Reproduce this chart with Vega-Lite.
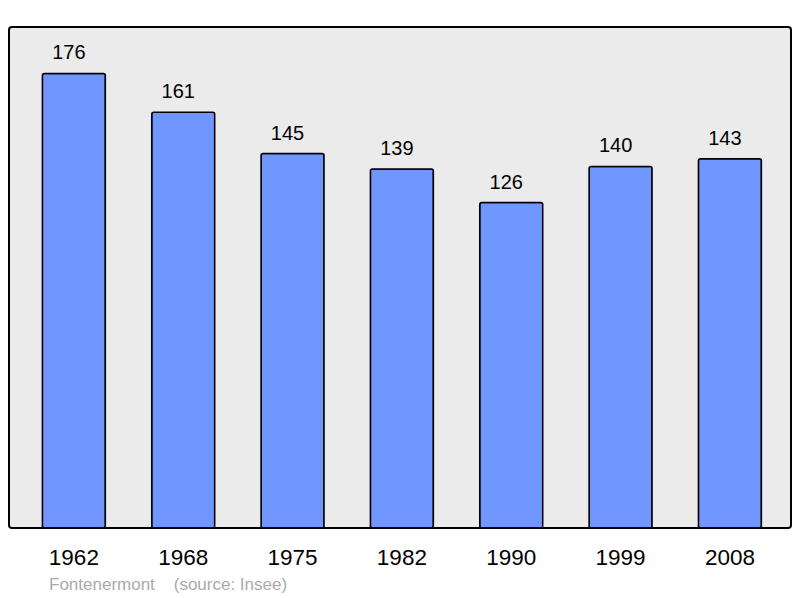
{
  "$schema": "https://vega.github.io/schema/vega-lite/v6.json",
  "width": 782,
  "height": 501,
  "autosize": "none",
  "padding": {"left": 9, "top": 27, "right": 9, "bottom": 70},
  "background": "white",
  "config": {
    "font": "Liberation Sans",
    "view": {"fill": "#ebebeb", "stroke": "black", "strokeWidth": 2, "cornerRadius": 3}
  },
  "title": {
    "text": "Fontenermont\u00a0\u00a0\u00a0\u00a0(source: Insee)",
    "orient": "bottom",
    "anchor": "start",
    "fontSize": 17,
    "fontWeight": "normal",
    "color": "#aaaaaa",
    "font": "Liberation Sans",
    "dx": 40,
    "offset": 8
  },
  "data": {
    "values": [
      {"year": "1962", "pop": 176},
      {"year": "1968", "pop": 161},
      {"year": "1975", "pop": 145},
      {"year": "1982", "pop": 139},
      {"year": "1990", "pop": 126},
      {"year": "1999", "pop": 140},
      {"year": "2008", "pop": 143}
    ]
  },
  "encoding": {
    "x": {
      "field": "year",
      "type": "ordinal",
      "sort": null,
      "scale": {"paddingInner": 0.424, "paddingOuter": 0.288, "align": 0.53},
      "axis": {
        "title": null,
        "domain": false,
        "ticks": false,
        "labelAngle": 0,
        "labelFontSize": 22.5,
        "labelColor": "black",
        "labelPadding": 18
      }
    },
    "y": {
      "field": "pop",
      "type": "quantitative",
      "scale": {"domain": [0, 194], "nice": false},
      "axis": null
    }
  },
  "layer": [
    {
      "mark": {"type": "bar", "color": "#7096ff", "stroke": "black", "strokeWidth": 1.5, "cornerRadius": 2}
    },
    {
      "mark": {"type": "text", "fontSize": 20, "color": "black", "baseline": "alphabetic", "dy": -14, "dx": -5},
      "encoding": {"text": {"field": "pop", "type": "quantitative"}}
    }
  ]
}
